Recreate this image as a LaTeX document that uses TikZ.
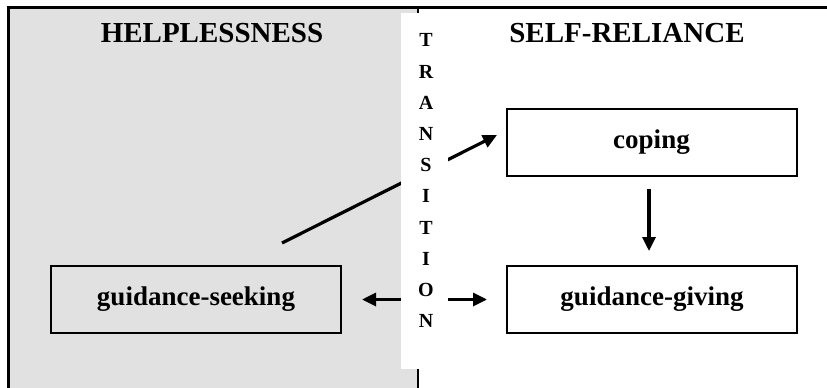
\documentclass[tikz,border=0pt]{standalone}
\usepackage{fontspec}
\setmainfont{Liberation Serif}
\usetikzlibrary{arrows.meta}
\definecolor{bggray}{RGB}{225,225,225}
\tikzset{
  x=1pt, y=-1pt,
  frameline/.style={line width=3pt},
  heading/.style={font=\fontsize{29}{30}\selectfont\bfseries, anchor=base, inner sep=0pt},
  stagebox/.style={draw, line width=2pt, minimum width=290pt, minimum height=67pt, inner sep=0pt,
    font=\fontsize{27}{28}\selectfont\bfseries},
  conn/.style={line width=3.2pt, -{Triangle[length=14pt,width=13pt]}},
  dconn/.style={line width=3.2pt, {Triangle[length=14pt,width=13pt]}-{Triangle[length=14pt,width=13pt]}},
}
\begin{document}
\begin{tikzpicture}
\useasboundingbox (0,0) rectangle (827,388);
% grey helplessness area
\fill[bggray] (8,7) rectangle (418,388);
\draw[line width=2pt] (418,7) -- (418,388);
\draw[frameline] (6.5,7) -- (827,7);
\draw[frameline] (8,7) -- (8,388);
% headings
\node[heading] (hl) at (212,42) {HELPLESSNESS};
\node[heading] (sr) at (627,42) {SELF-RELIANCE};
% boxes
\node[stagebox] (coping) at (651.5,142.5) {coping};
\node[stagebox] (give) at (652,299.5) {guidance-giving};
\node[stagebox] (seek) at (196,299.5) {guidance-seeking};
% connectors
\coordinate (dstart) at (282,243);
\coordinate (dend) at (497,135);
\draw[conn] (dstart) -- (dend);
\draw[conn, shorten <=12pt, shorten >=14pt] ([xshift=-2.5pt]coping.south) -- ([xshift=-3pt]give.north);
\draw[dconn, shorten <=20pt, shorten >=19pt] (seek.east) -- (give.west);
% transition column
\node[fill=white, inner sep=0pt, minimum width=47pt, minimum height=356pt, anchor=north west] (tcol) at (401,13) {};
\node[anchor=north, inner sep=0pt, align=center, font=\fontsize{20}{31.2}\selectfont\bfseries] (trans) at (426,33.5)
  {T\\R\\A\\N\\S\\I\\T\\I\\O\\N};
\end{tikzpicture}
\end{document}
